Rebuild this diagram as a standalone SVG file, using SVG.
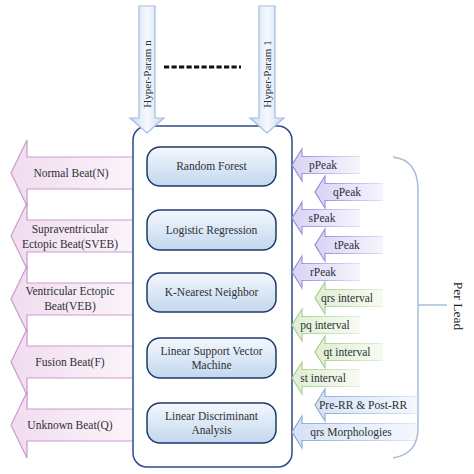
<svg xmlns="http://www.w3.org/2000/svg" width="474" height="474" viewBox="0 0 474 474">
<defs>
<linearGradient id="gPink" x1="0" y1="0" x2="1" y2="0"><stop offset="0" stop-color="#f1dcef"/><stop offset="1" stop-color="#fbf4fa"/></linearGradient>
<linearGradient id="gTop" x1="0" y1="0" x2="1" y2="0"><stop offset="0" stop-color="#c6d8ef"/><stop offset="0.5" stop-color="#f7fafe"/><stop offset="1" stop-color="#c6d8ef"/></linearGradient>
<linearGradient id="gBox" x1="0" y1="0" x2="0" y2="1"><stop offset="0" stop-color="#f4f8fd"/><stop offset="1" stop-color="#c3d7ee"/></linearGradient>
<linearGradient id="gPurple" x1="0" y1="0" x2="1" y2="0"><stop offset="0" stop-color="#d9d3f5"/><stop offset="1" stop-color="#f6f4fd"/></linearGradient>
<linearGradient id="gGreen" x1="0" y1="0" x2="1" y2="0"><stop offset="0" stop-color="#e0eed3"/><stop offset="1" stop-color="#f7fbf3"/></linearGradient>
<linearGradient id="gBlue" x1="0" y1="0" x2="1" y2="0"><stop offset="0" stop-color="#d6e3f3"/><stop offset="1" stop-color="#f5f8fd"/></linearGradient>
<linearGradient id="sPurple" x1="0" y1="0" x2="1" y2="0"><stop offset="0" stop-color="#9485d8"/><stop offset="1" stop-color="#e4e0f8"/></linearGradient>
<linearGradient id="sGreen" x1="0" y1="0" x2="1" y2="0"><stop offset="0" stop-color="#a3cd87"/><stop offset="1" stop-color="#e6f1dc"/></linearGradient>
<linearGradient id="sBlue" x1="0" y1="0" x2="1" y2="0"><stop offset="0" stop-color="#85a9d6"/><stop offset="1" stop-color="#e1eaf6"/></linearGradient>
</defs>
<style>
text{font-family:"Liberation Serif","DejaVu Serif",serif;font-size:11.5px;fill:#2c3038;text-anchor:middle}
.beat{fill:url(#gPink);stroke:#c99bcb;stroke-width:1.2}
.top{fill:url(#gTop);stroke:#a3bde0;stroke-width:1.2}
.box{fill:url(#gBox);stroke:#1f3a6a;stroke-width:1.5}
.pur{fill:url(#gPurple);stroke:url(#sPurple);stroke-width:1.2}
.grn{fill:url(#gGreen);stroke:url(#sGreen);stroke-width:1.2}
.blu{fill:url(#gBlue);stroke:url(#sBlue);stroke-width:1.2}
</style>
<rect width="474" height="474" fill="#ffffff"/>

<g id="beats">
<g id="beat-n"><path class="beat" d="M134,157 L27,157 L27,140 L11,173 L27,206 L27,189 L134,189 Z"/><text x="71" y="177">Normal Beat(N)</text></g>
<g id="beat-sveb"><path class="beat" d="M134,220 L27,220 L27,203 L11,236 L27,269 L27,252 L134,252 Z"/><text x="70" y="233">Supraventricular</text><text x="70" y="248">Ectopic Beat(SVEB)</text></g>
<g id="beat-veb"><path class="beat" d="M134,283 L27,283 L27,266 L11,299 L27,332 L27,315 L134,315 Z"/><text x="70" y="295">Ventricular Ectopic</text><text x="70" y="310">Beat(VEB)</text></g>
<g id="beat-f"><path class="beat" d="M134,346 L27,346 L27,329 L11,362 L27,395 L27,378 L134,378 Z"/><text x="70" y="366">Fusion Beat(F)</text></g>
<g id="beat-q"><path class="beat" d="M134,409 L27,409 L27,392 L11,425 L27,458 L27,441 L134,441 Z"/><text x="70" y="429">Unknown Beat(Q)</text></g>
</g>

<g id="container"><rect x="133" y="126" width="159" height="341" rx="14" fill="#ffffff" stroke="#2c4c8c" stroke-width="1.5"/></g>

<g id="hyper-n"><path class="top" d="M139,6 L155,6 L155,118 L164,118 L147,133 L130,118 L139,118 Z"/><text transform="translate(150.5,74) rotate(-90)" style="font-size:11px">Hyper-Param n</text></g>
<g id="hyper-1"><path class="top" d="M259,6 L275,6 L275,118 L284,118 L267,133 L250,118 L259,118 Z"/><text transform="translate(270.5,74) rotate(-90)" style="font-size:11px">Hyper-Param 1</text></g>
<line x1="164" y1="67" x2="241" y2="67" stroke="#111" stroke-width="3" stroke-dasharray="5.2 2.3"/>

<g id="rf"><rect class="box" x="147" y="147" width="129" height="39" rx="13"/><text x="211.5" y="170">Random Forest</text></g>
<g id="lr"><rect class="box" x="147" y="210" width="129" height="40" rx="13"/><text x="211.5" y="234">Logistic Regression</text></g>
<g id="knn"><rect class="box" x="147" y="273" width="129" height="39" rx="13"/><text x="211.5" y="296">K-Nearest Neighbor</text></g>
<g id="lsvm"><rect class="box" x="147" y="338" width="129" height="40" rx="13"/><text x="211.5" y="355">Linear Support Vector</text><text x="211.5" y="369">Machine</text></g>
<g id="lda"><rect class="box" x="147" y="403" width="129" height="40" rx="13"/><text x="211.5" y="420">Linear Discriminant</text><text x="211.5" y="434">Analysis</text></g>

<g id="features">
<g id="ppeak"><path class="pur" d="M360,156.5 L302,156.5 L302,149 L292,165 L302,181 L302,173.5 L360,173.5"/><text x="323" y="169">pPeak</text></g>
<g id="qpeak"><path class="pur" d="M383,183.5 L325,183.5 L325,176 L315,192 L325,208 L325,200.5 L383,200.5"/><text x="347" y="196">qPeak</text></g>
<g id="speak"><path class="pur" d="M360,209.5 L302,209.5 L302,202 L292,218 L302,234 L302,226.5 L360,226.5"/><text x="322" y="222">sPeak</text></g>
<g id="tpeak"><path class="pur" d="M383,236.5 L325,236.5 L325,229 L315,245 L325,261 L325,253.5 L383,253.5"/><text x="347" y="249">tPeak</text></g>
<g id="rpeak"><path class="pur" d="M360,263.5 L302,263.5 L302,256 L292,272 L302,288 L302,280.5 L360,280.5"/><text x="323" y="276">rPeak</text></g>
<g id="qrsint"><path class="grn" d="M383,289.5 L325,289.5 L325,282 L315,298 L325,314 L325,306.5 L383,306.5"/><text x="347" y="302">qrs interval</text></g>
<g id="pqint"><path class="grn" d="M360,316.5 L302,316.5 L302,309 L292,325 L302,341 L302,333.5 L360,333.5"/><text x="325" y="329">pq interval</text></g>
<g id="qtint"><path class="grn" d="M383,343.5 L325,343.5 L325,336 L315,352 L325,368 L325,360.5 L383,360.5"/><text x="347" y="356">qt interval</text></g>
<g id="stint"><path class="grn" d="M360,369.5 L302,369.5 L302,362 L292,378 L302,394 L302,386.5 L360,386.5"/><text x="323" y="382">st interval</text></g>
<g id="rr"><path class="blu" d="M417,396.5 L325,396.5 L325,389 L315,405 L325,421 L325,413.5 L417,413.5"/><text x="363" y="409">Pre-RR &amp; Post-RR</text></g>
<g id="morph"><path class="blu" d="M417,423.5 L302,423.5 L302,416 L292,432 L302,448 L302,440.5 L417,440.5"/><text x="351" y="436">qrs Morphologies</text></g>
</g>

<g id="connectors">
<path d="M393,157 Q418,160 418,190 L418,428 Q418,454 393,458 M418,305 L447,305" fill="none" stroke="#a9bdd8" stroke-width="1.5"/>
</g>
<g id="perlead"><text transform="translate(454,306) rotate(90)" style="font-size:13.5px;fill:#222">Per Lead</text></g>
</svg>
